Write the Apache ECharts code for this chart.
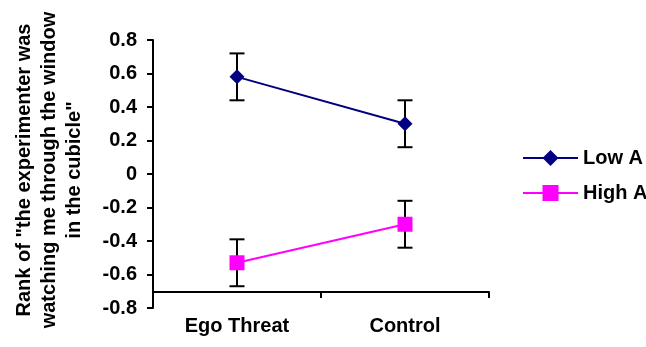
<!DOCTYPE html>
<html>
<head>
<meta charset="utf-8">
<script src="https://cdn.jsdelivr.net/npm/echarts@6/dist/echarts.min.js"></script>
<style>
  html, body { margin: 0; padding: 0; background: #fff; }
  #chart { width: 646px; height: 347px; }
</style>
</head>
<body>
<div id="chart"></div>
<script>
// Conditions on the x axis
const categories = ['Ego Threat', 'Control'];
// Mean ranks per group
const lowA = [0.58, 0.30];
const highA = [-0.53, -0.30];
// Half-widths of the error bars
const lowAErr = [0.14, 0.14];
const highAErr = [0.14, 0.14];
// Y tick settings
const yMin = -0.8, yMax = 0.8, yStep = 0.2;

const font = 'Arial, "Liberation Sans", sans-serif';
const fs = 20;

function errorSeries(values, errs) {
  return {
    type: 'custom',
    silent: true,
    z: 1,
    data: values.map((v, i) => [i, v - errs[i], v + errs[i]]),
    renderItem: function (params, api) {
      const lo = api.coord([api.value(0), api.value(1)]);
      const hi = api.coord([api.value(0), api.value(2)]);
      const half = 7.5;
      const style = { stroke: '#000', lineWidth: 2 };
      return {
        type: 'group',
        children: [
          { type: 'line', shape: { x1: hi[0], y1: hi[1], x2: lo[0], y2: lo[1] }, style: style },
          { type: 'line', shape: { x1: hi[0] - half, y1: hi[1], x2: hi[0] + half, y2: hi[1] }, style: style },
          { type: 'line', shape: { x1: lo[0] - half, y1: lo[1], x2: lo[0] + half, y2: lo[1] }, style: style }
        ]
      };
    }
  };
}

const chart = echarts.init(document.getElementById('chart'));
chart.setOption({
  animation: false,
  backgroundColor: '#fff',
  grid: { left: 153, top: 40, right: 157, bottom: 39, containLabel: false },
  legend: {
    orient: 'vertical',
    left: 517,
    top: 143,
    itemWidth: 55,
    itemHeight: 20,
    itemGap: 15,
    textStyle: { fontFamily: font, fontWeight: 'bold', fontSize: fs, color: '#000' },
    data: ['Low A', 'High A']
  },
  xAxis: {
    type: 'category',
    data: categories,
    boundaryGap: true,
    offset: -16,
    axisLine: { onZero: false, lineStyle: { color: '#000', width: 2 } },
    axisTick: { show: true, length: 6, lineStyle: { color: '#000', width: 2 } },
    axisLabel: { fontFamily: font, fontWeight: 'bold', fontSize: fs, color: '#000', margin: 24 },
    splitLine: { show: false }
  },
  yAxis: {
    type: 'value',
    min: yMin,
    max: yMax,
    interval: yStep,
    axisLine: { show: true, lineStyle: { color: '#000', width: 2 } },
    axisTick: { show: true, length: 6, lineStyle: { color: '#000', width: 2 } },
    axisLabel: {
      fontFamily: font, fontWeight: 'bold', fontSize: fs, color: '#000', margin: 16,
      formatter: v => (Math.abs(v) < 1e-9 ? '0' : v.toFixed(1))
    },
    splitLine: { show: false }
  },
  graphic: [{
    type: 'text',
    x: 49,
    y: 170,
    rotation: Math.PI / 2,
    style: {
      text: 'Rank of "the experimenter was\nwatching me through the window\nin the cubicle"',
      align: 'center',
      verticalAlign: 'middle',
      lineHeight: 25,
      font: 'bold ' + fs + 'px ' + font,
      fill: '#000'
    }
  }],
  series: [
    errorSeries(lowA, lowAErr),
    errorSeries(highA, highAErr),
    {
      name: 'Low A',
      type: 'line',
      data: lowA,
      z: 3,
      symbol: 'diamond',
      symbolSize: 15,
      itemStyle: { color: '#000080' },
      lineStyle: { color: '#000080', width: 2 }
    },
    {
      name: 'High A',
      type: 'line',
      data: highA,
      z: 3,
      symbol: 'rect',
      symbolSize: 15,
      itemStyle: { color: '#ff00ff' },
      lineStyle: { color: '#ff00ff', width: 2 }
    }
  ]
});
</script>
</body>
</html>
